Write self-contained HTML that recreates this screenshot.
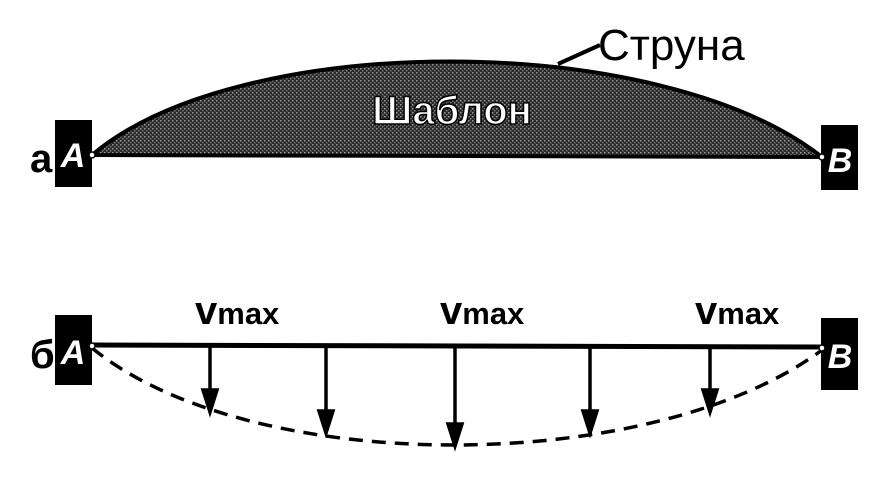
<!DOCTYPE html>
<html><head><meta charset="utf-8"><style>
html,body{margin:0;padding:0;background:#fff;}
svg{display:block;font-family:"Liberation Sans",sans-serif;}
</style></head><body>
<svg width="871" height="481" viewBox="0 0 871 481">
<defs>
<pattern id="stip" width="4" height="4" patternUnits="userSpaceOnUse">
<rect width="4" height="4" fill="#2a2a2a"/><rect x="0" y="0" width="1.5" height="1.5" fill="#9a9a9a"/><rect x="2" y="2" width="1.5" height="1.5" fill="#777"/>
</pattern>
</defs>
<g>
<text x="30" y="172" font-size="40" font-weight="bold">а</text>
<path d="M92,155 C 240,30 660,30 822,157 Z" fill="url(#stip)" stroke="#000" stroke-width="4"/>
<text x="452" y="124" font-size="40" font-weight="bold" text-anchor="middle" fill="#fff" stroke="#000" stroke-width="1.5">Шаблон</text>
<line x1="558" y1="64" x2="600" y2="45" stroke="#000" stroke-width="4"/>
<text x="598" y="60" font-size="44">Струна</text>
<rect x="55" y="120" width="37" height="67" fill="#000"/>
<text x="73" y="167" font-size="34" font-weight="bold" font-style="italic" fill="#fff" text-anchor="middle">A</text>
<rect x="821" y="125" width="37" height="65" fill="#000"/>
<text x="840" y="172" font-size="34" font-weight="bold" font-style="italic" fill="#fff" text-anchor="middle">B</text>
<circle cx="92" cy="155" r="3" fill="#fff" stroke="#000" stroke-width="1.5"/>
<circle cx="822" cy="157" r="3" fill="#fff" stroke="#000" stroke-width="1.5"/>
</g>
<g>
<text x="30" y="368" font-size="40" font-weight="bold">б</text>
<path d="M92,348 C 250,477 650,477 822,350" fill="none" stroke="#000" stroke-width="3.5" stroke-dasharray="14,9"/>
<line x1="92" y1="345" x2="822" y2="347" stroke="#000" stroke-width="5"/>
<g stroke="#000" stroke-width="3.5" fill="#000">
<line x1="210" y1="346" x2="210" y2="395"/><polygon points="203,390 217,390 210,412"/>
<line x1="326" y1="346" x2="326" y2="416"/><polygon points="319,411 333,411 326,433"/>
<line x1="455" y1="346" x2="455" y2="429"/><polygon points="448,424 462,424 455,446"/>
<line x1="590" y1="346" x2="590" y2="416"/><polygon points="583,411 597,411 590,433"/>
<line x1="710" y1="346" x2="710" y2="395"/><polygon points="703,390 717,390 710,412"/>
</g>
<g font-weight="bold">
<text x="195" y="324"><tspan font-size="40">v</tspan><tspan font-size="31">max</tspan></text>
<text x="440" y="324"><tspan font-size="40">v</tspan><tspan font-size="31">max</tspan></text>
<text x="695" y="324"><tspan font-size="40">v</tspan><tspan font-size="31">max</tspan></text>
</g>
<rect x="55" y="315" width="37" height="70" fill="#000"/>
<text x="73" y="364" font-size="34" font-weight="bold" font-style="italic" fill="#fff" text-anchor="middle">A</text>
<rect x="821" y="318" width="37" height="72" fill="#000"/>
<text x="840" y="368" font-size="34" font-weight="bold" font-style="italic" fill="#fff" text-anchor="middle">B</text>
<circle cx="92" cy="346" r="3" fill="#fff" stroke="#000" stroke-width="1.5"/>
<circle cx="822" cy="348" r="3" fill="#fff" stroke="#000" stroke-width="1.5"/>
</g>
</svg>
</body></html>
